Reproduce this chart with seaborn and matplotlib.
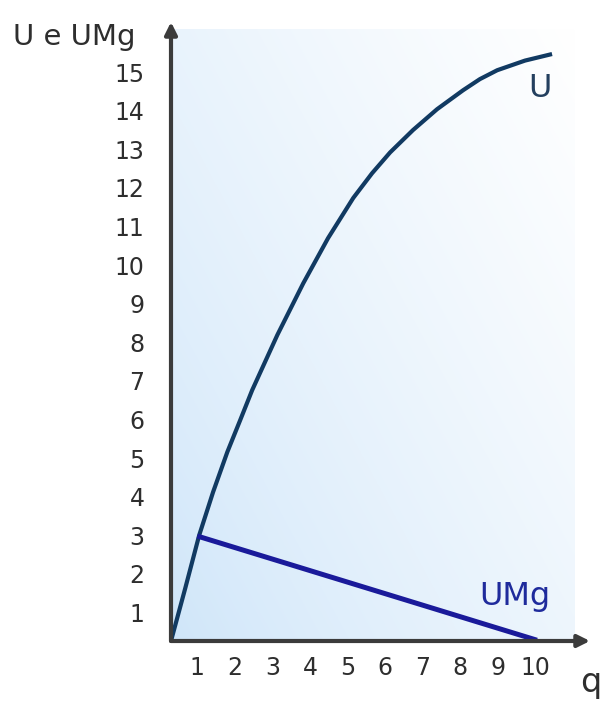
import numpy as np
import pandas as pd
import matplotlib
matplotlib.use("Agg")
import matplotlib.pyplot as plt
import seaborn as sns

# ---- data ----
q_u = [0.30, 0.68, 1.05, 1.42, 1.80, 2.14, 2.46, 3.13, 3.82, 4.48, 5.15,
       5.65, 6.13, 6.74, 7.38, 8.07, 8.52, 8.98, 9.72, 10.44]
u_vals = [0.26, 1.63, 3.00, 4.12, 5.16, 5.98, 6.76, 8.19, 9.53, 10.70, 11.74,
          12.38, 12.92, 13.50, 14.04, 14.53, 14.82, 15.05, 15.30, 15.47]
q_umg = [1.0, 10.04]
umg_vals = [2.98, 0.28]
x_ticks = list(range(1, 11))
y_ticks = list(range(1, 16))
y_title = "U e UMg"
x_title = "q"
label_u = "U"
label_umg = "UMg"

sns.set_theme(style="white")
plt.rcParams['font.family'] = ['DejaVu Sans']

fig = plt.figure(figsize=(6.04, 7.07), dpi=100)
ax = fig.add_axes([171 / 604, 66 / 707, (590 - 171) / 604, (641 - 22) / 707])

xlim = (0.3, 11.45)
ylim = (0.26, 16.3)
ax.set_xlim(*xlim)
ax.set_ylim(*ylim)

# background gradient (light blue at origin fading to white at top-right)
nx, ny = 300, 300
gx = np.linspace(0, 1, nx)
gy = np.linspace(0, 1, ny)
GX, GY = np.meshgrid(gx, gy)
t = np.clip(0.55 * GX + 0.45 * GY, 0, 1) ** 0.75
c0 = np.array([206, 229, 249]) / 255.0
c1 = np.array([255, 255, 255]) / 255.0
img = c0[None, None, :] * (1 - t[..., None]) + c1[None, None, :] * t[..., None]
ax.imshow(img, extent=[xlim[0], xlim[1] - 0.4, ylim[0], ylim[1] - 0.2],
          origin='lower', aspect='auto', zorder=0)

df_u = pd.DataFrame({"q": q_u, "v": u_vals})
df_m = pd.DataFrame({"q": q_umg, "v": umg_vals})
sns.lineplot(data=df_u, x="q", y="v", ax=ax, sort=False, estimator=None,
             color="#113a62", lw=3.0, zorder=3)
sns.lineplot(data=df_m, x="q", y="v", ax=ax, sort=False, estimator=None,
             color="#1a1a9a", lw=3.6, zorder=3)
for ln in ax.lines:
    ln.set_solid_joinstyle('round')
    ln.set_solid_capstyle('butt')

for s in ax.spines.values():
    s.set_visible(False)

axis_col = "#3b3b3b"
ax.annotate("", xy=(1, 0), xytext=(0, 0), xycoords='axes fraction',
            arrowprops=dict(arrowstyle='-|>', lw=3, color=axis_col,
                            mutation_scale=18, shrinkA=0, shrinkB=0), zorder=4)
ax.annotate("", xy=(0, 1), xytext=(0, 0), xycoords='axes fraction',
            arrowprops=dict(arrowstyle='-|>', lw=3, color=axis_col,
                            mutation_scale=18, shrinkA=0, shrinkB=0), zorder=4)

ax.set_xticks(x_ticks)
ax.set_yticks(y_ticks)
ax.set_xticklabels([str(v) for v in x_ticks])
ax.set_yticklabels([str(v) for v in y_ticks])
ax.tick_params(axis='both', length=0, labelsize=17, labelcolor="#2e2e2e")
ax.tick_params(axis='y', pad=19)
ax.tick_params(axis='x', pad=11)
ax.set_xlabel("")
ax.set_ylabel("")
ax.grid(False)

ax.text(10.12, 14.35, label_u, color="#24405f", fontsize=23,
        ha='center', va='baseline', zorder=5)
ax.text(9.45, 1.19, label_umg, color="#1f2b9c", fontsize=23,
        ha='center', va='baseline', zorder=5)

fig.text(13 / 604, 1 - 37 / 707, y_title, fontsize=21, color="#2e2e2e",
         ha='left', va='center')
fig.text(591 / 604, 15 / 707, x_title, fontsize=24, color="#2e2e2e",
         ha='center', va='baseline')

fig.savefig("out.png", dpi=100, facecolor="white")
